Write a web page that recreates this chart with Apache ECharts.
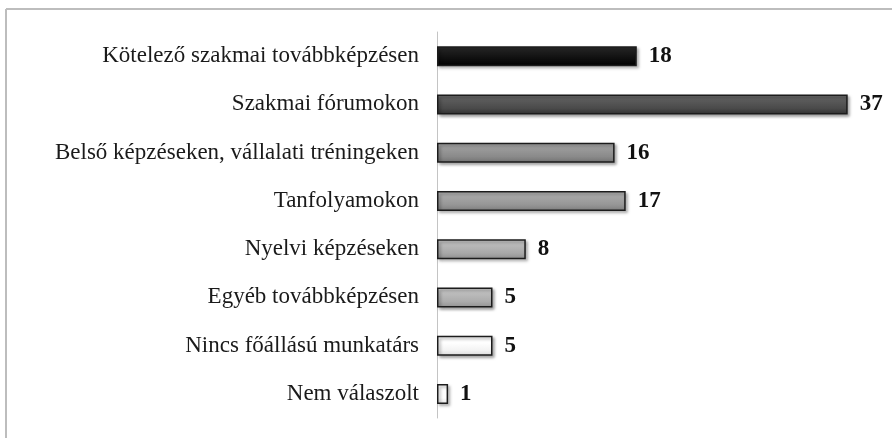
<!DOCTYPE html>
<html>
<head>
<meta charset="utf-8">
<title>Továbbképzés</title>
<script src="https://cdn.jsdelivr.net/npm/echarts@6/dist/echarts.min.js"></script>
<style>
body{padding:0;margin:0;background:#fff;}
#chartmain{width:892px;height:438px;}
</style>
</head>
<body>
<div id="chartmain"></div>
<script type="text/javascript">
// adatok
var categories = ['Kötelező szakmai továbbképzésen', 'Szakmai fórumokon', 'Belső képzéseken, vállalati tréningeken', 'Tanfolyamokon', 'Nyelvi képzéseken', 'Egyéb továbbképzésen', 'Nincs főállású munkatárs', 'Nem válaszolt'];
var values = [18, 37, 16, 17, 8, 5, 5, 1];
var barColors = ['#0c0c0c', '#4a4a4a', '#8a8a8a', '#969696', '#a8a8a8', '#acacac', '#f4f4f4', '#ffffff'];

function shade(hex, amt) {
	var n = parseInt(hex.slice(1), 16);
	var r = Math.max(0, Math.min(255, (n >> 16) + amt));
	var g = Math.max(0, Math.min(255, ((n >> 8) & 255) + amt));
	var b = Math.max(0, Math.min(255, (n & 255) + amt));
	return 'rgb(' + r + ',' + g + ',' + b + ')';
}

var barData = values.map(function (v, i) {
	var c = barColors[i];
	return {
		value: v,
		itemStyle: {
			color: new echarts.graphic.LinearGradient(0, 0, 0, 1, [
				{offset: 0, color: shade(c, 35)},
				{offset: 0.35, color: shade(c, 14)},
				{offset: 0.7, color: c},
				{offset: 1, color: shade(c, -25)}
			])
		}
	};
});

var myChart = echarts.init(document.getElementById('chartmain'));
myChart.setOption({
	animation: false,
	grid: {left: 437, right: 11, top: 32, bottom: 20},
	graphic: [
		{type: 'line', shape: {x1: 6, y1: 9, x2: 892, y2: 9}, style: {stroke: '#bdbdbd', lineWidth: 2}},
		{type: 'line', shape: {x1: 6, y1: 9, x2: 6, y2: 438}, style: {stroke: '#bdbdbd', lineWidth: 2}}
	],
	xAxis: {
		type: 'value', min: 0, max: 40, show: false
	},
	yAxis: {
		type: 'category',
		inverse: true,
		data: categories,
		axisLine: {lineStyle: {color: '#c4c4c4', width: 1}},
		axisTick: {show: false},
		axisLabel: {
			margin: 18,
			fontFamily: 'Liberation Serif',
			fontSize: 23,
			color: '#1a1a1a'
		}
	},
	series: [{
		type: 'bar',
		data: barData,
		barWidth: 20,
		itemStyle: {
			borderColor: '#1c1c1c',
			borderWidth: 1.5,
			shadowColor: 'rgba(0,0,0,0.35)',
			shadowBlur: 3,
			shadowOffsetX: 2,
			shadowOffsetY: 2
		},
		label: {
			show: true,
			position: 'right',
			distance: 12,
			fontFamily: 'Liberation Serif',
			fontWeight: 'bold',
			fontSize: 23,
			color: '#111'
		}
	}]
});
</script>
</body>
</html>
